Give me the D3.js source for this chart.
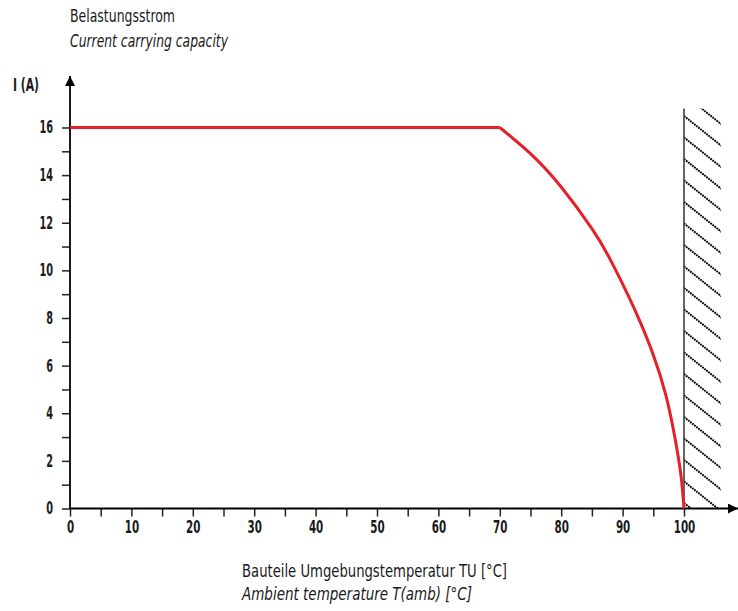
<!DOCTYPE html>
<html>
<head>
<meta charset="utf-8">
<script src="https://cdn.jsdelivr.net/npm/d3@7"></script>
<style>
  body { margin: 0; background: #fff; }
  text { font-family: "DejaVu Sans", sans-serif; font-stretch: condensed; fill: #1a1a1a; }
</style>
</head>
<body>
<script>
// derating curve: ambient temperature (°C) -> current (A)
var temps    = [0, 70, 75, 80, 85, 88, 91, 93, 95, 97, 98.5, 99.5, 100];
var currents = [16, 16, 14.9, 13.5, 11.75, 10.45, 8.9, 7.75, 6.45, 4.8, 3.0, 1.4, 0];

var xTickLabels = ["0", "10", "20", "30", "40", "50", "60", "70", "80", "90", "100"];
var yTickLabels = ["0", "2", "4", "6", "8", "10", "12", "14", "16"];

// forbidden zone above max temperature
var hatchT = [100, 106];
var hatchI = [0, 16.8];

const WIDTH = 738;
const HEIGHT = 611;

var svg = d3.select("body").append("svg")
    .attr("width", WIDTH)
    .attr("height", HEIGHT);

var xScale = d3.scaleLinear().domain([0, 100]).range([70, 684]);
var yScale = d3.scaleLinear().domain([0, 16]).range([508.5, 127.5]);

var defs = svg.append("defs");
defs.append("marker")
    .attr("id", "arrow")
    .attr("viewBox", "0 0 10 10")
    .attr("refX", 10).attr("refY", 5)
    .attr("markerWidth", 10).attr("markerHeight", 10)
    .attr("markerUnits", "userSpaceOnUse")
    .attr("orient", "auto")
    .append("path")
    .attr("d", "M0,0 L10,5 L0,10 Z")
    .attr("fill", "#000");

// hatch area
var hx0 = xScale(hatchT[0]), hx1 = xScale(hatchT[1]);
var hy0 = yScale(hatchI[1]), hy1 = yScale(hatchI[0]);
defs.append("clipPath").attr("id", "hatchClip")
    .append("rect")
    .attr("x", hx0).attr("y", hy0)
    .attr("width", hx1 - hx0).attr("height", hy1 - hy0);

var hatch = svg.append("g").attr("clip-path", "url(#hatchClip)");
var slope = 0.8, gap = 21.5;
for (var y0 = hy0 - 60; y0 < hy1 + 10; y0 += gap) {
    hatch.append("line")
        .attr("x1", hx0).attr("y1", y0 + 3)
        .attr("x2", hx1 + 2).attr("y2", y0 + 3 + (hx1 + 2 - hx0) * slope)
        .attr("stroke", "#000")
        .attr("stroke-width", 2)
        .attr("stroke-dasharray", "1.8,0.8");
}
svg.append("line")
    .attr("x1", hx0).attr("x2", hx0)
    .attr("y1", hy0).attr("y2", hy1)
    .attr("stroke", "#333").attr("stroke-width", 1.5);

// axes
var xAxis = svg.append("g")
    .attr("transform", `translate(0,${yScale(0)})`)
    .call(d3.axisBottom(xScale)
        .tickValues(d3.range(0, 101, 5))
        .tickSize(8).tickSizeOuter(0)
        .tickFormat(d => d % 10 === 0 ? xTickLabels[d / 10] : ""));
xAxis.select(".domain").remove();
xAxis.selectAll(".tick line").attr("stroke", "#222").attr("stroke-width", 1.5);
xAxis.selectAll(".tick text")
    .attr("y", 12)
    .attr("font-size", "17px")
    .attr("font-weight", "bold")
    .attr("font-family", null)
    .attr("lengthAdjust", "spacingAndGlyphs")
    .attr("textLength", function() { var n = this.textContent.length; return n ? n * 7.2 : null; });

var yAxis = svg.append("g")
    .attr("transform", `translate(${xScale(0)},0)`)
    .call(d3.axisLeft(yScale)
        .tickValues(d3.range(0, 17, 1))
        .tickSize(8).tickSizeOuter(0)
        .tickFormat(d => d % 2 === 0 ? yTickLabels[d / 2] : ""));
yAxis.select(".domain").remove();
yAxis.selectAll(".tick line").attr("stroke", "#222").attr("stroke-width", 1.5);
yAxis.selectAll(".tick text")
    .attr("x", -17)
    .attr("font-size", "17px")
    .attr("font-weight", "bold")
    .attr("font-family", null)
    .attr("lengthAdjust", "spacingAndGlyphs")
    .attr("textLength", function() { var n = this.textContent.length; return n ? n * 6.8 : null; });

svg.append("line")
    .attr("x1", xScale(0)).attr("y1", yScale(0))
    .attr("x2", 738).attr("y2", yScale(0))
    .attr("stroke", "#000").attr("stroke-width", 1.8)
    .attr("marker-end", "url(#arrow)");
svg.append("line")
    .attr("x1", xScale(0)).attr("y1", yScale(0))
    .attr("x2", xScale(0)).attr("y2", 76)
    .attr("stroke", "#000").attr("stroke-width", 1.8)
    .attr("marker-end", "url(#arrow)");

// curve: flat part plus derating part
var pts = temps.map((t, i) => [t, currents[i]]);
var line = d3.line().x(d => xScale(d[0])).y(d => yScale(d[1]));
svg.append("path")
    .datum(pts.slice(0, 2))
    .attr("d", line)
    .attr("fill", "none").attr("stroke", "#e5202a").attr("stroke-width", 3);
svg.append("path")
    .datum(pts.slice(1))
    .attr("d", line.curve(d3.curveNatural))
    .attr("fill", "none").attr("stroke", "#e5202a").attr("stroke-width", 3);

// texts
function label(x, y, txt, len, italic, bold, size) {
    svg.append("text")
        .attr("x", x).attr("y", y)
        .attr("font-size", (size || 18) + "px")
        .attr("font-style", italic ? "italic" : "normal")
        .attr("font-weight", bold ? "bold" : "normal")
        .attr("textLength", len)
        .attr("lengthAdjust", "spacingAndGlyphs")
        .text(txt);
}
label(70, 21.5, "Belastungsstrom", 105, false, false);
label(70, 47, "Current carrying capacity", 158, true, false);
label(13, 91, "I (A)", 26, false, true, 17);
label(242, 577, "Bauteile Umgebungstemperatur TU [°C]", 265, false, false);
label(242, 599.5, "Ambient temperature T(amb) [°C]", 230, true, false);
</script>
</body>
</html>
